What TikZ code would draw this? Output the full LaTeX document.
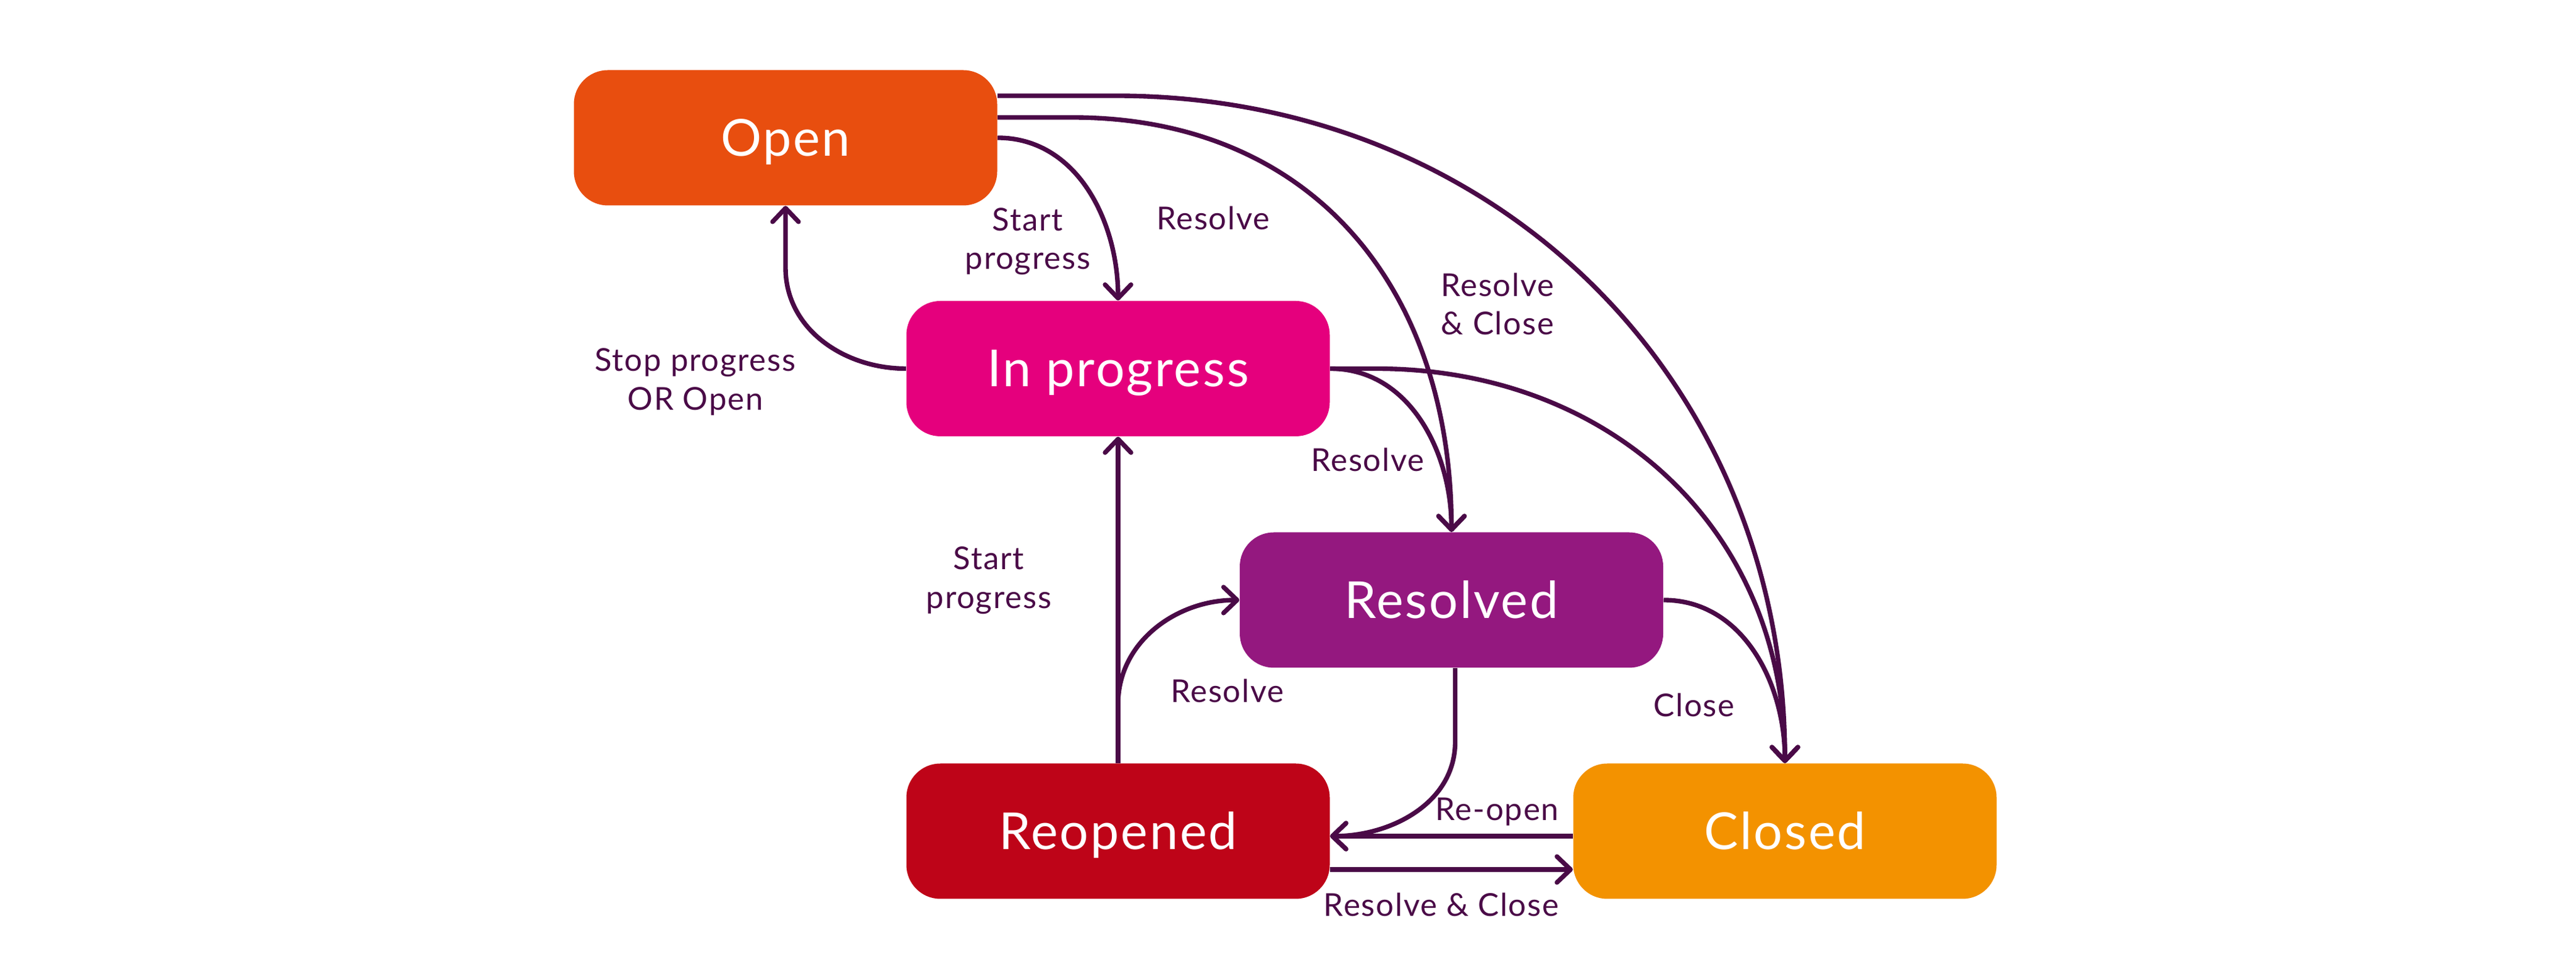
\documentclass[tikz,border=0pt]{standalone}
\usepackage{fontspec}
\setmainfont{Lato}[LetterSpace=3.5]
\usetikzlibrary{arrows.meta}
\definecolor{edgecol}{HTML}{4A0A47}
\definecolor{cOpen}{HTML}{E84E0F}
\definecolor{cProg}{HTML}{E5007D}
\definecolor{cRes}{HTML}{94187F}
\definecolor{cReop}{HTML}{BE0418}
\definecolor{cClosed}{HTML}{F39200}
\begin{document}
\begin{tikzpicture}[
  state/.style={rectangle, rounded corners=0.55cm, minimum width=6.85cm, minimum height=2.19cm, inner sep=0pt, text=white, font=\fontsize{23.5pt}{28pt}\selectfont, text height=0.59cm, text depth=0pt},
  lbl/.style={inner sep=0pt, text=edgecol, font=\fontsize{14.5pt}{17.8pt}\selectfont, align=center},
  flow/.style={draw=edgecol, line width=2.1pt, -{Straight Barb[length=0.22cm,width=0.42cm,round]}},
]
\fill[white] (0,0) rectangle (41.68,15.68);
\useasboundingbox (0,0) rectangle (41.68,15.68);
\node[state, fill=cOpen] (open) at (12.71,13.45) {Open};
\node[state, fill=cProg] (prog) at (18.09,9.715) {In progress};
\node[state, fill=cRes] (res) at (23.485,5.97) {Resolved};
\node[state, fill=cReop] (reop) at (18.09,2.23) {Reopened};
\node[state, fill=cClosed] (closed) at (28.88,2.23) {Closed};

\draw[flow] (open.east) to[out=0,in=90] (prog.north);
\draw[flow] ([yshift=0.33cm]open.east) -- ++(1.2,0) to[out=0,in=90,looseness=1.1] (res.north);
\draw[flow] ([yshift=0.68cm]open.east) -- ++(1.91,0) to[out=0,in=90,looseness=1.03] (closed.north);
\draw[flow] (prog.west) to[out=180,in=-90] ([yshift=-1.0cm]open.south) -- (open.south);
\draw[flow] (prog.east) to[out=0,in=90] (res.north);
\draw[flow] (prog.east) -- ++(0.74,0) to[out=0,in=90,looseness=1.05] (closed.north);
\draw[flow] (res.east) to[out=0,in=90] (closed.north);
\draw[flow] ([xshift=0.06cm]res.south) -- ++(0,-1.19) to[out=-90,in=0] ([yshift=-0.08cm]reop.east);
\draw[flow] ([yshift=-0.08cm]closed.west) -- ([yshift=-0.08cm]reop.east);
\draw[flow] ([yshift=-0.62cm]reop.east) -- ([yshift=-0.62cm]closed.west);
\draw[flow] (reop.north) -- (prog.south);
\draw[flow] (reop.north) -- ++(0,0.95) to[out=90,in=180] (res.west);

\node[lbl] (lSP1) at (16.63,11.775) {Start\\progress};
\node[lbl, anchor=base] (lR1) at (19.63,11.96) {Resolve};
\node[lbl] (lRC1) at (24.23,10.76) {Resolve\\\& Close};
\node[lbl] (lStop) at (11.25,9.50) {Stop progress\\OR Open};
\node[lbl, anchor=base] (lR2) at (22.13,8.05) {Resolve};
\node[lbl] (lSP2) at (16.00,6.29) {Start\\progress};
\node[lbl, anchor=base] (lR3) at (19.86,4.31) {Resolve};
\node[lbl, anchor=base] (lClose) at (27.41,4.08) {Close};
\node[lbl, anchor=base east] (lReopen) at (25.23,2.40) {Re-open};
\node[lbl, anchor=base east] (lRC2) at (25.23,0.85) {Resolve \& Close};
\end{tikzpicture}
\end{document}
